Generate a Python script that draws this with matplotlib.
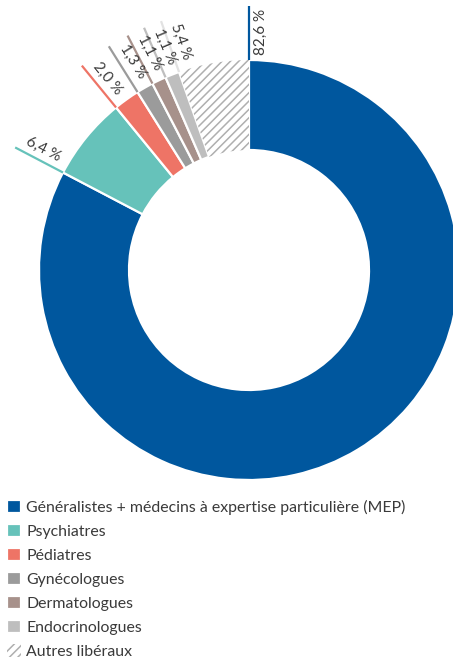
import numpy as np
import matplotlib
matplotlib.use("Agg")
import matplotlib.pyplot as plt

categories = ["Généralistes + médecins à expertise particulière (MEP)", "Psychiatres",
              "Pédiatres", "Gynécologues", "Dermatologues", "Endocrinologues", "Autres libéraux"]
values = [82.6, 6.4, 2.0, 1.3, 1.1, 1.1, 5.4]
labels = ["82,6 %", "6,4 %", "2,0 %", "1,3 %", "1,1 %", "1,1 %", "5,4 %"]
colors = ["#00579E", "#66C2BA", "#EE7466", "#9B9B9B", "#A7918B", "#BEBEBE", "white"]
line_colors = ["#00579E", "#66C2BA", "#EE7466", "#9B9B9B", "#A7918B", "#BEBEBE", "#E2E2E2"]

plt.rcParams['font.family'] = ['Lato', 'DejaVu Sans']
plt.rcParams['hatch.linewidth'] = 1.1
TXT = "#3a3a3a"

W, H = 453, 663
fig = plt.figure(figsize=(W / 100, H / 100), dpi=100)
ax = fig.add_axes([0, 0, 1, 1])

R = 210.0
cx, cy = 249.0, 663 - 270.0
wedges, _ = ax.pie(values, colors=colors, startangle=90, counterclock=False,
                   radius=1.0, wedgeprops=dict(width=90 / R, edgecolor="white", linewidth=1.6))
wedges[-1].set_hatch("////")
wedges[-1].set_edgecolor("#AFAFAF")
wedges[-1].set_linewidth(0)

ax.set_aspect("auto")
ax.set_xlim(-cx / R, (W - cx) / R)
ax.set_ylim(-cy / R, (H - cy) / R)
ax.axis("off")

r_line = 264 / R
r_text = 238 / R
off = 12 / R
for w, lab, lc in zip(wedges, labels, line_colors):
    a = np.deg2rad(w.theta2)
    ax.plot([np.cos(a), r_line * np.cos(a)], [np.sin(a), r_line * np.sin(a)],
            color=lc, lw=1.6, solid_capstyle="butt", clip_on=False)
    px, py = np.sin(a), -np.cos(a)
    tx = r_text * np.cos(a) + off * px
    ty = r_text * np.sin(a) + off * py
    deg = w.theta2
    rot = 90 if abs(deg - 90) < 1 else deg - 180
    ax.text(tx, ty, lab, rotation=rot, rotation_mode="anchor", ha="center", va="center",
            fontsize=11, color=TXT)

leg = ax.legend(wedges, categories, loc="upper left", bbox_to_anchor=(7 / W, 1 - 500 / H),
                bbox_transform=fig.transFigure, frameon=False, fontsize=11.4,
                handlelength=0.9, handleheight=0.85, handletextpad=0.3,
                labelspacing=0.58, borderaxespad=0, borderpad=0)
for t in leg.get_texts():
    t.set_color(TXT)

fig.savefig("out.png", dpi=100)
